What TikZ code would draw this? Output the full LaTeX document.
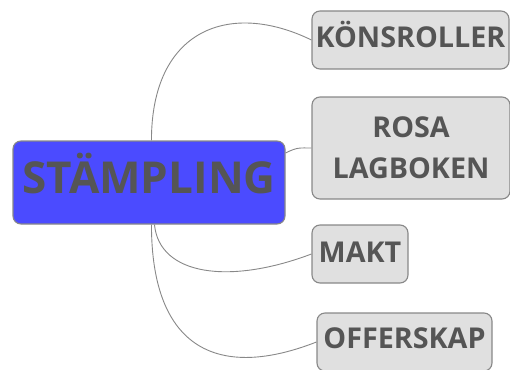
\documentclass[tikz,border=0pt]{standalone}
\usepackage{fontspec}
\setmainfont{Open Sans}
\usetikzlibrary{calc}
\definecolor{txt}{HTML}{555555}
\definecolor{hubblue}{HTML}{4B4BFF}
\definecolor{boxfill}{HTML}{E0E0E0}
\definecolor{edge}{HTML}{888888}
\tikzset{
  basebox/.style={draw=edge, line width=1.1pt, rounded corners=8pt, inner sep=0pt, text=txt, align=center},
  hubbox/.style={basebox, fill=hubblue, font=\bfseries\fontsize{44}{50}\selectfont},
  topic/.style={basebox, fill=boxfill, font=\bfseries\fontsize{28.7}{41}\selectfont},
  link/.style={draw=edge, line width=0.9pt}
}
\begin{document}
\begin{tikzpicture}[x=1pt,y=-1pt]
\useasboundingbox (0,0) rectangle (510,369);
\clip (0,0) rectangle (510,369);
\node[hubbox, minimum width=272pt, text height=52pt, text depth=31pt, anchor=base] (hub) at (149,193) {STÄMPLING};
\node[topic, minimum width=197pt, text height=37pt, text depth=21pt, anchor=base] (kon) at (410.5,48) {KÖNSROLLER};
\node[topic, minimum width=198pt, minimum height=102pt] (rosa) at (411,148) {ROSA\\LAGBOKEN};
\node[topic, minimum width=96pt, text height=37pt, text depth=21pt, anchor=base] (makt) at (360,262) {MAKT};
\node[topic, minimum width=175pt, text height=35pt, text depth=23pt, anchor=base] (off) at (404.5,348) {OFFERSKAP};
\coordinate (s1) at ([xshift=139pt]hub.north west);
\coordinate (s2) at ([yshift=29.5pt]hub.east);
\coordinate (s3) at ([xshift=142pt]hub.south west);
\coordinate (s4) at ([xshift=139pt]hub.south west);
\draw[link] (s1) .. controls +(0,-111) and +(-82,-40) .. (kon.west);
\draw[link] (s2) .. controls +(12,-6) and +(-12,0) .. (rosa.west);
\draw[link] (s3) .. controls +(5,51) and +(-82,31) .. (makt.west);
\draw[link] (s4) .. controls +(0,126) and +(-97,38) .. (off.west);
\end{tikzpicture}
\end{document}
